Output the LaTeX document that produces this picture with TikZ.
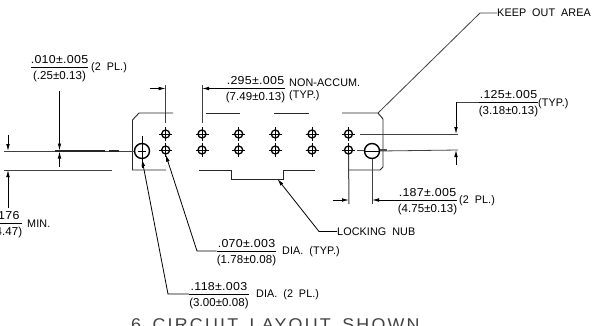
\documentclass[tikz,border=0pt]{standalone}
\usepackage{fontspec}
\setmainfont[FakeStretch=1.08,LetterSpace=2.5]{Liberation Sans}
\newfontfamily\denfont[FakeStretch=1.0,LetterSpace=0.5]{Liberation Sans}
\newfontfamily\capsfont[FakeStretch=0.98,LetterSpace=1,WordSpace=1.9]{Liberation Sans}
\newfontfamily\titlefont[FakeStretch=1.05,LetterSpace=13,WordSpace=1.6]{Liberation Sans}
\usetikzlibrary{positioning,arrows.meta,calc}
\setlength{\arrayrulewidth}{0.9pt}
\newcommand{\tolfrac}[2]{\setlength{\tabcolsep}{0pt}\begin{tabular}{c}#1\\[-0.5pt]\hline\rule{0pt}{12pt}{\denfont\fontsize{11.5}{12}\selectfont #2}\end{tabular}}

\begin{document}
\begin{tikzpicture}[x=1pt, y=-1pt,
    part/.style={line width=0.9pt, draw=black!85},
    hole/.style={circle, draw=black, line width=1.3pt, minimum size=8pt, inner sep=0pt},
    bighole/.style={circle, draw=black, line width=1.4pt, minimum size=15pt, inner sep=0pt},
    extline/.style={line width=0.8pt, draw=black!75},
    dimarrow/.style={-{Latex[length=7pt,width=3.6pt]}, line width=0.8pt, draw=black},
    lbl/.style={inner sep=0pt, yshift=-1.5pt, font=\fontsize{11.5}{12}\selectfont, text=black},
    note/.style={inner sep=0pt, anchor=west, font=\capsfont\fontsize{11}{12}\selectfont, text=black},
]
    \useasboundingbox (0,0) rectangle (592,325);

    % Connector outline
    \draw[part] (173,113) -- (139,113) -- (132.5,120) -- (132.5,170) -- (166,170);
    \draw[part] (206,113) -- (240,113);
    \draw[part] (274,113) -- (309,113);
    \draw[part] (342,113) -- (378,113) -- (383,119) -- (383,167) -- (380,170) -- (349,170);
    \draw[part] (199,170) -- (231,170) -- (231,179) -- (283,179) -- (283,170) -- (315,170);

    % Holes
    \foreach \n/\xpos in {1/165.7, 2/202, 3/238.7, 4/275.3, 5/312, 6/348.5} {
        \node[hole] (h\n a) at (\xpos,134) {};
        \node[hole] (h\n b) at (\xpos,150) {};
        \draw[line width=0.8pt] (\xpos,127) -- (\xpos,141) (\xpos,143) -- (\xpos,157);
        \draw[line width=0.8pt] (\xpos-6.5,134) -- (\xpos+6.5,134) (\xpos-6.5,150) -- (\xpos+6.5,150);
    }
    \node[bighole] (peg1) at (142,151) {};
    \node[bighole] (peg2) at (372,151) {};
    \draw[line width=0.4pt] (142,136) -- (142,168) (138,151) -- (146,151);
    \draw[line width=0.4pt] (364,151) -- (380,151);

    % Extension lines
    \coordinate (left1) at (4,151);
    \coordinate (left2) at (4,170);
    \coordinate (left2end) at (112,170);
    \coordinate (top1) at (165.7,85);
    \coordinate (top2) at (202,85);
    \coordinate (low1) at (349,204);
    \coordinate (low2) at (372,204);
    \coordinate (right1) at (458,134);
    \coordinate (right2) at (458,150);
    \draw[extline] (left1) -- (peg1.west);
    \draw[line width=1.6pt, black!85] (55,151) -- (105,151) (109,151) -- (119,151);
    \draw[extline] (left2) -- (left2end);
    \draw[extline] (top1) -- (165.7,123);
    \draw[extline] (top2) -- (202,123);
    \draw[extline] (360,134) -- (right1);
    \draw[extline] (357,150) -- (364,150);
    \draw[extline] (peg2.east) -- (right2);
    \draw[line width=1.3pt, black!70] (380,150) -- (387,150);
    \draw[extline, line width=1pt] (h6b.south) -- (low1);
    \draw[extline] (372,159) -- (low2);

    % Labels
    \node[lbl] (d010) at (59.5,67.5) {\tolfrac{.010±.005}{(.25±0.13)}};
    \node[note] (d010n) at (91,68) {(2 PL.)};
    \node[lbl] (d176) at (7,223.5) {\tolfrac{.176}{(4.47)}};
    \node[note] (d176n) at (27,224) {MIN.};
    \node[lbl] (d295) at (255.5,89) {\tolfrac{.295±.005}{(7.49±0.13)}};
    \node[note] (d295n) at (289,83) {NON-ACCUM.};
    \node[note] (d295t) at (289,96) {(TYP.)};
    \node[note] (keep) at (497,13) {KEEP OUT AREA};
    \node[lbl] (d125) at (508.5,102.5) {\tolfrac{.125±.005}{(3.18±0.13)}};
    \node[note] (d125t) at (538,104) {(TYP.)};
    \node[lbl] (d187) at (427.5,200.5) {\tolfrac{.187±.005}{(4.75±0.13)}};
    \node[note] (d187n) at (459,201) {(2 PL.)};
    \node[note] (nub) at (337,231.5) {LOCKING NUB};
    \node[lbl] (d070) at (246.5,251.5) {\tolfrac{.070±.003}{(1.78±0.08)}};
    \node[note] (d070n) at (282,252) {DIA. (TYP.)};
    \node[lbl] (d118) at (219,294.5) {\tolfrac{.118±.003}{(3.00±0.08)}};
    \node[note] (d118n) at (256,295) {DIA. (2 PL.)};
    \node[inner sep=0pt, anchor=base west, font=\titlefont\fontsize{17}{20}\selectfont, text=black!75] (title) at (131,330.5) {6 CIRCUIT LAYOUT SHOWN};

    % Dimension arrows
    \coordinate (a010) at (59.5,91);
    \coordinate (b010) at (59.5,167);
    \draw[dimarrow] (a010) -- (59.5,150.5);
    \draw[dimarrow] (b010) -- (59.5,151.5);
    \coordinate (a176) at (8,135);
    \coordinate (b176) at (8,208);
    \draw[dimarrow] (a176) -- (left1 -| a176);
    \draw[dimarrow] (b176) -- (left2 -| b176);
    \coordinate (a295) at (150,88.5);
    \draw[dimarrow] (a295) -- (a295 -| top1);
    \draw[dimarrow] (a295 -| d295.west) -- (a295 -| top2);
    \coordinate (a125) at (456,102);
    \draw[extline] (a125 -| d125.west) -- (a125);
    \draw[dimarrow] (a125) -- (right1 -| a125);
    \coordinate (b125) at (456,165);
    \draw[dimarrow] (b125) -- (right2 -| b125);
    \coordinate (a187) at (333,200);
    \draw[dimarrow] (a187) -- (a187 -| low1);
    \draw[dimarrow] (a187 -| d187.west) -- (a187 -| low2);

    % Leaders
    \coordinate (k1) at (480,13);
    \draw[extline] (keep.west) -- (k1) -- (378,113);
    \coordinate (n1) at (319,231.5);
    \draw[dimarrow] (nub.west) -- (n1) -- (277.5,179);
    \coordinate (l070) at (197,251);
    \draw[dimarrow] (l070 -| d070.west) -- (l070) -- (h1b.south);
    \coordinate (l118) at (168,294);
    \draw[dimarrow] (l118 -| d118.west) -- (l118) -- (peg1.south);
\end{tikzpicture}
\end{document}
